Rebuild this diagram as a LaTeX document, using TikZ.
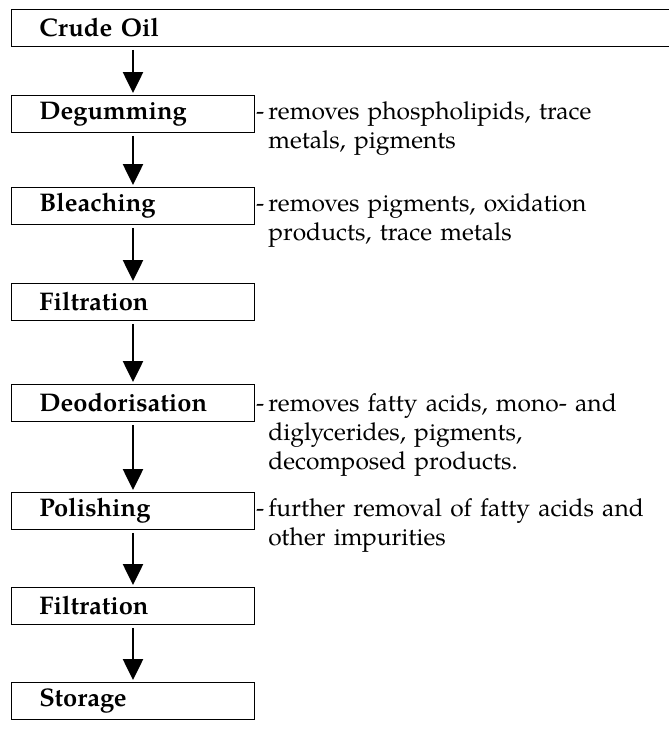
\documentclass[tikz,border=0pt]{standalone}
\usepackage{fontspec}
\setmainfont{TeX Gyre Pagella}
\usetikzlibrary{arrows.meta}
\tikzset{
  stepbox/.style={draw, line width=0.9pt, anchor=north west, inner xsep=28pt, inner ysep=0pt,
    minimum height=37pt, text width=187pt, align=left, font=\fontsize{25.5}{29}\selectfont\bfseries},
  desc/.style={anchor=base west, inner xsep=0pt, inner ysep=0pt, text width=410pt, align=left,
    font=\fontsize{24.6}{29}\selectfont},
  flow/.style={line width=2.6pt, -{Triangle[width=20pt,length=21pt]}, shorten <=3pt, shorten >=2pt}
}
\newcommand{\dsh}{-\kern4pt}
\newcommand{\ind}{\hphantom{-\kern4pt}}
\begin{document}
\begin{tikzpicture}[x=1pt,y=-1pt]
\useasboundingbox[fill=white] (0,0) rectangle (669,734);
\node[stepbox, text width=602pt] (crude) at (11,9) {Crude Oil};
\node[stepbox] (degum) at (11,95) {Degumming};
\node[stepbox] (bleach) at (11,187) {Bleaching};
\node[stepbox] (filt1) at (11,283) {Filtration};
\node[stepbox] (deodor) at (11,384) {Deodorisation};
\node[stepbox] (polish) at (11,492) {Polishing};
\node[stepbox] (filt2) at (11,587) {Filtration};
\node[stepbox] (store) at (11,682) {Storage};

\node[desc] (d1) at ([xshift=1pt]degum.base east) {\dsh removes phospholipids, trace\\\ind metals, pigments};
\node[desc] (d2) at ([xshift=1pt]bleach.base east) {\dsh removes pigments, oxidation\\\ind products, trace metals};
\node[desc] (d3) at ([xshift=1pt]deodor.base east) {\dsh removes fatty acids, mono- and\\\ind diglycerides, pigments,\\\ind decomposed products.};
\node[desc] (d4) at ([xshift=1pt]polish.base east) {\dsh further removal of fatty acids and\\\ind other impurities};

\coordinate (ax) at (133,0);
\draw[flow] (ax |- crude.south) -- (ax |- degum.north);
\draw[flow] (ax |- degum.south) -- (ax |- bleach.north);
\draw[flow] (ax |- bleach.south) -- (ax |- filt1.north);
\draw[flow] (ax |- filt1.south) -- (ax |- deodor.north);
\draw[flow] (ax |- deodor.south) -- (ax |- polish.north);
\draw[flow] (ax |- polish.south) -- (ax |- filt2.north);
\draw[flow] (ax |- filt2.south) -- (ax |- store.north);
\end{tikzpicture}
\end{document}
